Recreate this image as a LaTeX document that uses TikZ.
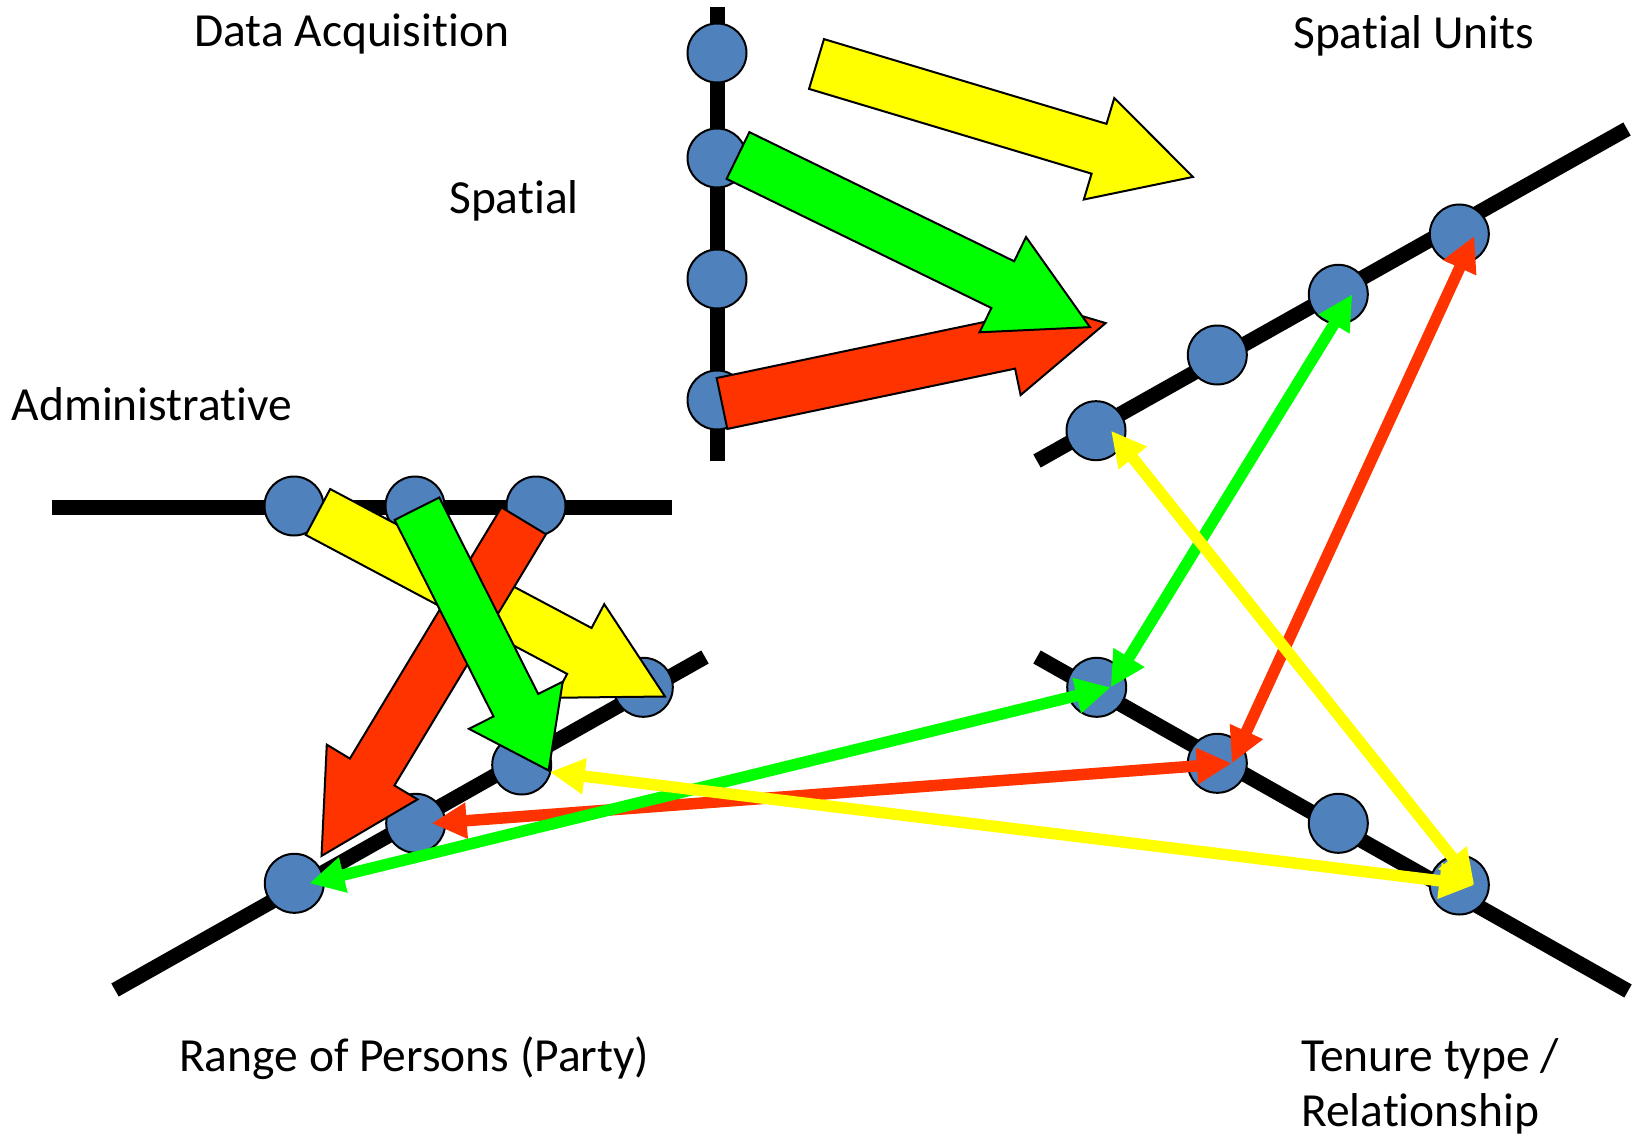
\documentclass[tikz,border=0pt]{standalone}
\usepackage{fontspec}
\setmainfont{Carlito}[Ligatures=NoCommon]
\usetikzlibrary{arrows.meta}
\definecolor{nodeblue}{RGB}{79,129,189}
\definecolor{ylw}{RGB}{255,255,0}
\definecolor{grn}{RGB}{0,255,0}
\definecolor{rd}{RGB}{255,51,0}
% #1 fill, #2 tail centre, #3 angle (clockwise on screen), #4 length,
% #5 shaft half width, #6 head half width, #7 head length
\newcommand\blockarrow[7]{%
  \begin{scope}[shift={#2},rotate={-(#3)}]
    \filldraw[blockstyle,fill=#1] (0,-#5) -- ({#4-#7},-#5) -- ({#4-#7},-#6) -- (#4,0)
      -- ({#4-#7},#6) -- ({#4-#7},#5) -- (0,#5) -- cycle;
  \end{scope}}
\begin{document}
\begin{tikzpicture}[x=1pt,y=-1pt,
  axis/.style={line width=15pt, line cap=butt, black},
  dot/.style={circle, fill=nodeblue, draw=black, line width=2pt, minimum size=59pt, inner sep=0pt},
  blockstyle/.style={draw=black, line width=2pt, line join=miter},
  link/.style={line width=11.5pt, {Triangle[length=35pt,width=34pt]}-{Triangle[length=35pt,width=34pt]}},
  lbl/.style={inner sep=0pt, anchor=base west, font=\fontsize{47.5}{55}\selectfont, align=left}]
\useasboundingbox (0,0) rectangle (1633,1137);
\fill[white] (0,0) rectangle (1633,1137);
% axes
\coordinate (va) at (717,7);    \coordinate (vb) at (717,461);
\coordinate (ha) at (52,507);   \coordinate (hb) at (672,507);
\coordinate (la) at (115,990);  \coordinate (lb) at (705,657);
\coordinate (ua) at (1037,461); \coordinate (ub) at (1627,129);
\coordinate (ra) at (1037,657); \coordinate (rb) at (1628,991);
\draw[axis] (va) -- (vb);
\draw[axis] (ha) -- (hb);
\draw[axis] (la) -- (lb);
\draw[axis] (ua) -- (ub);
\draw[axis] (ra) -- (rb);
% nodes
\node[dot] (V1) at (717,53) {};
\node[dot] (V2) at (717,158) {};
\node[dot] (V3) at (717,279) {};
\node[dot] (V4) at (717,400) {};
\node[dot] (H1) at (294,506) {};
\node[dot] (H2) at (415,506) {};
\node[dot] (H3) at (536,506) {};
\node[dot] (L1) at (294.3,883.3) {};
\node[dot] (L2) at (415.7,823.3) {};
\node[dot] (L3) at (521.7,765) {};
\node[dot] (L4) at (643.3,687.3) {};
\node[dot] (U1) at (1096,430.7) {};
\node[dot] (U2) at (1217.3,355) {};
\node[dot] (U3) at (1338.3,294.3) {};
\node[dot] (U4) at (1459.3,234) {};
\node[dot] (R1) at (1096.7,687.3) {};
\node[dot] (R2) at (1217.3,763.3) {};
\node[dot] (R3) at (1338.3,823.3) {};
\node[dot] (R4) at (1459.3,885) {};
% block arrows
\blockarrow{ylw}{(816.5,64)}{16.7}{393}{26}{53}{98}
\blockarrow{rd}{(722,403.5)}{-11.84}{392}{26}{53}{98}
\blockarrow{grn}{(738,155.5)}{26.0}{391.6}{26}{53}{97}
\blockarrow{ylw}{(318,512)}{28.0}{393}{26}{53}{97}
\blockarrow{rd}{(523.7,520.8)}{121.1}{391.4}{26}{53}{98}
\blockarrow{grn}{(417,508.7)}{63.3}{293}{25}{52.5}{73}
% links
\draw[link, rd] ([xshift=16pt]L2.center) -- ([xshift=14.5pt]R2.center);
\draw[link, rd] ([shift={(15,2)}]U4.center) -- ([xshift=14.5pt]R2.center);
\draw[link, grn] ([xshift=15pt]L1.center) -- ([xshift=14pt]R1.center);
\draw[link, grn] ([xshift=14pt]U3.center) -- ([xshift=14pt]R1.center);
\draw[link, ylw] ([shift={(28,7)}]L3.center) -- ([xshift=15pt]R4.center);
\draw[link, ylw] ([xshift=15pt]U1.center) -- ([xshift=15pt]R4.center);
% labels
\node[lbl] (tDA) at (194,47) {Data Acquisition};
\node[lbl] (tSU) at (1293,49) {Spatial Units};
\node[lbl] (tSp) at (449,213) {Spatial};
\node[lbl] (tAd) at (11.5,420) {Administrative};
\node[lbl] (tRP) at (179,1071) {Range of Persons (Party)};
\node[lbl] (tTT) at (1301,1126) {Tenure type /\\Relationship};
\end{tikzpicture}
\end{document}
